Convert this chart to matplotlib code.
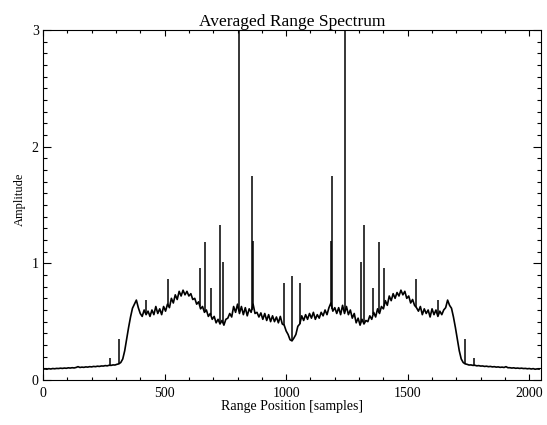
import numpy as np
import matplotlib
matplotlib.use("Agg")
import matplotlib.pyplot as plt
from matplotlib.ticker import MultipleLocator

# range positions, one every 8 samples
positions = np.arange(0, 2048, 8)

# averaged amplitude (every 8 samples)
amplitude = [
    0.092, 0.095, 0.092, 0.097, 0.094, 0.098, 0.096, 0.099,
    0.098, 0.101, 0.099, 0.102, 0.100, 0.104, 0.102, 0.105,
    0.103, 0.107, 0.114, 0.107, 0.110, 0.108, 0.112, 0.110,
    0.114, 0.112, 0.116, 0.114, 0.118, 0.116, 0.120, 0.119,
    0.123, 0.121, 0.126, 0.125, 0.129, 0.128, 0.134, 0.138,
    0.150, 0.180, 0.250, 0.350, 0.450, 0.540, 0.615, 0.650,
    0.685, 0.620, 0.570, 0.545, 0.600, 0.560, 0.590, 0.545,
    0.600, 0.560, 0.630, 0.570, 0.610, 0.560, 0.630, 0.590,
    0.650, 0.620, 0.700, 0.660, 0.730, 0.690, 0.760, 0.720,
    0.770, 0.730, 0.760, 0.720, 0.740, 0.690, 0.700, 0.650,
    0.670, 0.610, 0.630, 0.580, 0.600, 0.545, 0.570, 0.520,
    0.545, 0.490, 0.520, 0.480, 0.510, 0.470, 0.520, 0.530,
    0.570, 0.540, 0.630, 0.580, 0.650, 0.570, 0.630, 0.560,
    0.620, 0.550, 0.610, 0.580, 0.650, 0.570, 0.580, 0.540,
    0.575, 0.520, 0.570, 0.510, 0.560, 0.500, 0.550, 0.500,
    0.540, 0.490, 0.545, 0.480, 0.470, 0.420, 0.390, 0.345,
    0.335, 0.360, 0.390, 0.460, 0.480, 0.550, 0.510, 0.560,
    0.520, 0.570, 0.530, 0.580, 0.520, 0.560, 0.530, 0.580,
    0.550, 0.600, 0.560, 0.620, 0.660, 0.590, 0.620, 0.570,
    0.620, 0.560, 0.640, 0.570, 0.630, 0.560, 0.600, 0.530,
    0.570, 0.490, 0.530, 0.470, 0.520, 0.480, 0.510, 0.500,
    0.550, 0.520, 0.580, 0.540, 0.610, 0.570, 0.630, 0.610,
    0.680, 0.640, 0.720, 0.680, 0.740, 0.700, 0.750, 0.720,
    0.770, 0.730, 0.760, 0.700, 0.720, 0.660, 0.690, 0.640,
    0.620, 0.590, 0.630, 0.560, 0.610, 0.570, 0.600, 0.540,
    0.610, 0.560, 0.600, 0.545, 0.590, 0.560, 0.600, 0.620,
    0.685, 0.640, 0.615, 0.540, 0.450, 0.350, 0.250, 0.180,
    0.150, 0.138, 0.134, 0.128, 0.129, 0.125, 0.126, 0.121,
    0.123, 0.119, 0.120, 0.116, 0.118, 0.114, 0.116, 0.112,
    0.114, 0.110, 0.112, 0.108, 0.110, 0.107, 0.114, 0.105,
    0.105, 0.102, 0.104, 0.100, 0.102, 0.099, 0.101, 0.098,
    0.099, 0.096, 0.098, 0.094, 0.097, 0.092, 0.095, 0.093,
]

# narrow spikes (single-sample peaks)
spike_pos = [275, 312, 423, 513, 645, 665, 690, 726, 740, 805, 858, 865,
             991, 1023, 1055, 1183, 1190, 1243, 1308, 1322, 1358, 1383,
             1403, 1535, 1625, 1736, 1773]
spike_amp = [0.19, 0.35, 0.69, 0.87, 0.96, 1.18, 0.79, 1.33, 1.01, 3.2, 1.75, 1.19,
             0.83, 0.89, 0.83, 1.19, 1.75, 3.2, 1.01, 1.33, 0.79, 1.18,
             0.96, 0.87, 0.69, 0.35, 0.19]

plt.rcParams['font.family'] = ['Liberation Serif', 'DejaVu Serif']

fig = plt.figure(figsize=(5.47, 4.25), dpi=100)
ax = fig.add_axes([0.0786, 0.106, 0.9104, 0.823])

ax.plot(positions, amplitude, color='black', lw=1.2)
base = np.interp(spike_pos, positions, amplitude)
ax.vlines(spike_pos, base, spike_amp, color='black', lw=1.1)

ax.set_xlim(0, 2048)
ax.set_ylim(0, 3)
ax.xaxis.set_major_locator(MultipleLocator(500))
ax.xaxis.set_minor_locator(MultipleLocator(100))
ax.yaxis.set_major_locator(MultipleLocator(1))
ax.yaxis.set_minor_locator(MultipleLocator(0.1))
ax.tick_params(which='both', direction='in', top=True, right=True, labelsize=10, width=0.8)
ax.tick_params(axis='x', which='major', length=4.5, pad=5)
ax.tick_params(axis='x', which='minor', length=2.2)
ax.tick_params(axis='y', which='major', length=5.5, pad=3)
ax.tick_params(axis='y', which='minor', length=2.8)
for s in ax.spines.values():
    s.set_linewidth(0.8)

ax.set_title("Averaged Range Spectrum", fontsize=12.5, pad=3)
ax.set_xlabel("Range Position [samples]", fontsize=10, labelpad=0)
ax.set_ylabel("Amplitude", fontsize=9)
ax.yaxis.set_label_coords(-0.034, 0.517)

fig.savefig("out.png", dpi=100)
